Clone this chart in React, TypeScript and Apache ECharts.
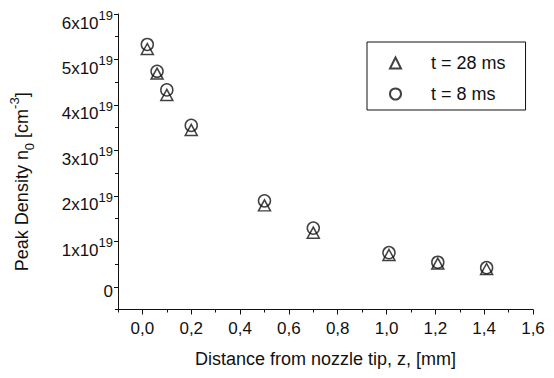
import React, { useEffect, useRef } from "react";
import * as echarts from "echarts";

// Distance from nozzle tip z [mm]
const zPositions = [0.02, 0.06, 0.1, 0.2, 0.5, 0.7, 1.01, 1.21, 1.41];
// Peak density in units of 10^19 cm^-3
const density28ms = [5.23, 4.69, 4.22, 3.45, 1.79, 1.19, 0.7, 0.51, 0.39];
const density8ms = [5.33, 4.74, 4.33, 3.55, 1.89, 1.29, 0.75, 0.54, 0.42];
const seriesNames = ["t = 28 ms", "t = 8 ms"];

const xMajorTicks = [0, 0.2, 0.4, 0.6, 0.8, 1.0, 1.2, 1.4, 1.6];
const xMinorTicks = [-0.1, 0.1, 0.3, 0.5, 0.7, 0.9, 1.1, 1.3, 1.5];
const yMajorTicks = [0, 1, 2, 3, 4, 5, 6];
const yMinorTicks = [-0.5, 0.5, 1.5, 2.5, 3.5, 4.5, 5.5];
const yExponent = "19";

const FONT = "'Liberation Sans', Arial, sans-serif";
const INK = "#111111";

export default function App() {
  const ref = useRef<HTMLDivElement>(null);

  useEffect(() => {
    if (!ref.current) return;
    const chart = echarts.init(ref.current, undefined, { renderer: "svg" });

    const lineStyle = { color: INK, width: 1 };
    const xBase = {
      type: "value" as const,
      min: -0.1,
      max: 1.6,
      position: "bottom" as const,
      splitLine: { show: false },
    };
    const yBase = {
      type: "value" as const,
      min: -0.5,
      max: 6,
      position: "left" as const,
      splitLine: { show: false },
    };

    chart.setOption({
      animation: false,
      backgroundColor: "#ffffff",
      textStyle: { fontFamily: FONT, color: INK },
      grid: { left: 110, right: 21, top: 14, bottom: 68.5 },
      legend: {
        orient: "vertical",
        left: 367,
        top: 42,
        data: seriesNames,
        itemWidth: 11,
        itemHeight: 11,
        itemGap: 13,
        padding: [12, 20, 7, 22],
        borderColor: INK,
        borderWidth: 1,
        backgroundColor: "#ffffff",
        textStyle: {
          fontFamily: FONT,
          fontSize: 18,
          lineHeight: 17,
          color: INK,
          padding: [0, 0, 0, 25],
        },
      },
      xAxis: [
        {
          ...xBase,
          axisLine: { show: true, onZero: false, lineStyle },
          name: "Distance from nozzle tip, z, [mm]",
          nameLocation: "middle",
          nameGap: 40,
          nameTextStyle: { fontFamily: FONT, fontSize: 18, color: INK },
          axisTick: { show: true, length: 5, lineStyle, customValues: xMajorTicks },
          axisLabel: {
            show: true,
            margin: 10,
            fontFamily: FONT,
            fontSize: 17,
            color: INK,
            customValues: xMajorTicks,
            formatter: (v: number) => v.toFixed(1).replace(".", ","),
          },
        },
        {
          ...xBase,
          axisLine: { show: false, onZero: false },
          axisTick: { show: true, length: 3, lineStyle, customValues: xMinorTicks },
          axisLabel: { show: false },
        },
      ],
      yAxis: [
        {
          ...yBase,
          axisLine: { show: true, onZero: false, lineStyle },
          name: "{m|Peak Density n}{sub|0}{m| [cm}{sup|-3}{m|]}",
          nameLocation: "middle",
          nameGap: 82,
          nameRotate: 90,
          nameTextStyle: {
            fontFamily: FONT,
            color: INK,
            padding: [0, 40, 0, 0],
            rich: {
              m: { fontFamily: FONT, fontSize: 18, lineHeight: 28, color: INK },
              sub: { fontFamily: FONT, fontSize: 13, lineHeight: 13, verticalAlign: "bottom", color: INK },
              sup: { fontFamily: FONT, fontSize: 13, lineHeight: 13, verticalAlign: "top", color: INK },
            },
          },
          axisTick: { show: true, length: 4, lineStyle, customValues: yMajorTicks },
          axisLabel: {
            show: true,
            margin: 5,
            padding: [18, 0, 0, 0],
            customValues: yMajorTicks,
            formatter: (v: number) =>
              v === 0 ? "{z|0}" : `{b|${v}x10}{sup|${yExponent}}`,
            rich: {
              b: { fontFamily: FONT, fontSize: 17, lineHeight: 28, color: INK },
              z: { fontFamily: FONT, fontSize: 17, lineHeight: 28, padding: [0, 0, 8, 0], color: INK },
              sup: { fontFamily: FONT, fontSize: 13, lineHeight: 13, verticalAlign: "top", color: INK },
            },
          },
        },
        {
          ...yBase,
          axisLine: { show: false, onZero: false },
          axisTick: { show: true, length: 3, lineStyle, customValues: yMinorTicks },
          axisLabel: { show: false },
        },
      ],
      series: [
        {
          name: seriesNames[0],
          type: "scatter",
          xAxisIndex: 0,
          yAxisIndex: 0,
          symbol: "triangle",
          symbolSize: [12, 11],
          itemStyle: { color: "transparent", borderColor: INK, borderWidth: 1.5 },
          data: zPositions.map((z, i) => [z, density28ms[i]]),
        },
        {
          name: seriesNames[1],
          type: "scatter",
          xAxisIndex: 0,
          yAxisIndex: 0,
          symbol: "circle",
          symbolSize: 12,
          itemStyle: { color: "transparent", borderColor: INK, borderWidth: 1.5 },
          data: zPositions.map((z, i) => [z, density8ms[i]]),
        },
      ],
    });

    return () => chart.dispose();
  }, []);

  return (
    <div
      ref={ref}
      style={{ position: "fixed", left: 0, top: 0, width: 554, height: 378, background: "#fff" }}
    />
  );
}
